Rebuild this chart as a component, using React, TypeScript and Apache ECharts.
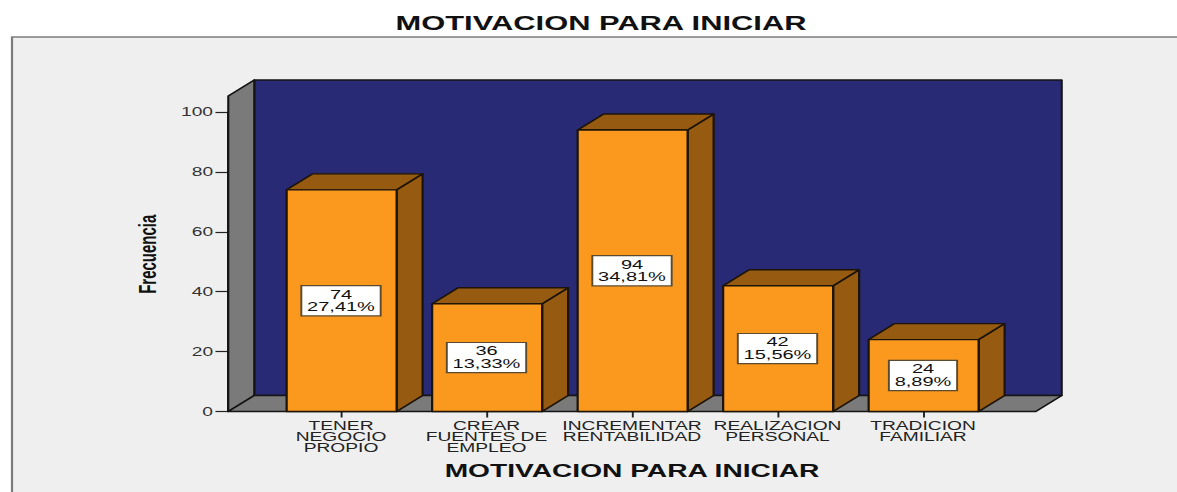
import React, { useEffect, useRef } from "react";
import * as echarts from "echarts";

const chartTitle = "MOTIVACION PARA INICIAR";
const xAxisTitle = "MOTIVACION PARA INICIAR";
const yAxisTitle = "Frecuencia";
const categories = [
  "TENER\nNEGOCIO\nPROPIO",
  "CREAR\nFUENTES DE\nEMPLEO",
  "INCREMENTAR\nRENTABILIDAD",
  "REALIZACION\nPERSONAL",
  "TRADICION\nFAMILIAR",
];
const frequencies = [74, 36, 94, 42, 24];
const percents = ["27,41%", "13,33%", "34,81%", "15,56%", "8,89%"];

// The reference is a horizontally stretched image: the whole chart is stretched the same way.
const STRETCH = 1.6;
const PAGE_W = 1177;
const PAGE_H = 492;
const DEPTH_X = 16.25;
const DEPTH_Y = 16;
const WALL_PAD = 25;
const FONT = '"Liberation Sans", Arial, sans-serif';
const INK = "#1c1408";

function renderWalls(params: any) {
  const cs = params.coordSys;
  const l = cs.x - WALL_PAD;
  const r = cs.x + cs.width + WALL_PAD;
  const b = cs.y + cs.height;
  const t = cs.y - DEPTH_Y;
  const stroke = { stroke: "#141414", lineWidth: 1.3, lineJoin: "round" };
  return {
    type: "group",
    children: [
      {
        type: "polygon",
        shape: { points: [[l + DEPTH_X, t - DEPTH_Y], [r + DEPTH_X, t - DEPTH_Y], [r + DEPTH_X, b - DEPTH_Y], [l + DEPTH_X, b - DEPTH_Y]] },
        style: { fill: "#282a75", ...stroke },
      },
      {
        type: "polygon",
        shape: { points: [[l, t], [l + DEPTH_X, t - DEPTH_Y], [l + DEPTH_X, b - DEPTH_Y], [l, b]] },
        style: { fill: "#7a7a7a", ...stroke },
      },
      {
        type: "polygon",
        shape: { points: [[l, b], [l + DEPTH_X, b - DEPTH_Y], [r + DEPTH_X, b - DEPTH_Y], [r, b]] },
        style: { fill: "#7a7a7a", ...stroke },
      },
    ],
  };
}

function renderBar(params: any, api: any) {
  const idx = api.value(0);
  const val = api.value(1);
  const top = api.coord([idx, val]);
  const base = api.coord([idx, 0]);
  const w = api.size([1, 0])[0] * 0.756;
  const cx = top[0] + 0.4;
  const l = cx - w / 2;
  const r = cx + w / 2;
  const stroke = { stroke: INK, lineWidth: 1.4, lineJoin: "round" };
  return {
    type: "group",
    children: [
      {
        type: "polygon",
        shape: { points: [[r, top[1]], [r + DEPTH_X, top[1] - DEPTH_Y], [r + DEPTH_X, base[1] - DEPTH_Y], [r, base[1]]] },
        style: { fill: "#975a11", ...stroke },
      },
      {
        type: "polygon",
        shape: { points: [[l, top[1]], [l + DEPTH_X, top[1] - DEPTH_Y], [r + DEPTH_X, top[1] - DEPTH_Y], [r, top[1]]] },
        style: { fill: "#975a11", ...stroke },
      },
      {
        type: "rect",
        shape: { x: l, y: top[1], width: w, height: base[1] - top[1] },
        style: { fill: "#fb981e", ...stroke },
      },
      {
        type: "text",
        x: cx - 0.4,
        y: (top[1] + base[1]) / 2,
        style: {
          text: `${frequencies[params.dataIndex]}\n${percents[params.dataIndex]}`,
          align: "center",
          verticalAlign: "middle",
          fill: "#111",
          font: `12.5px ${FONT}`,
          lineHeight: 12.5,
          backgroundColor: "#fff",
          borderColor: "#5a4a30",
          borderWidth: 1.2,
          padding: [2, 3],
        },
      },
    ],
  };
}

export default function App() {
  const ref = useRef<HTMLDivElement>(null);
  useEffect(() => {
    const chart = echarts.init(ref.current!, undefined, { renderer: "svg" });
    chart.setOption({
      animation: false,
      backgroundColor: "#ffffff",
      title: {
        text: chartTitle,
        left: 593 / STRETCH,
        top: 9,
        textAlign: "center",
        textStyle: { fontFamily: FONT, fontWeight: "bold", fontSize: 19.3, color: "#111" },
      },
      graphic: [
        {
          type: "rect",
          z: -10,
          shape: { x: 12 / STRETCH, y: 37, width: PAGE_W, height: PAGE_H },
          style: { fill: "#efefef", stroke: "#7d7d7d", lineWidth: 1.4 },
        },
      ],
      grid: { left: 268.25 / STRETCH, top: 112, width: 727.5 / STRETCH, height: 299.5 },
      xAxis: {
        type: "category",
        data: categories,
        name: xAxisTitle,
        nameLocation: "middle",
        nameGap: 50,
        nameTextStyle: { fontFamily: FONT, fontWeight: "bold", fontSize: 17.6, color: "#111" },
        axisLine: { show: false },
        axisTick: { show: true, alignWithLabel: true, length: 6, lineStyle: { color: "#222", width: 1.2 } },
        axisLabel: {
          interval: 0,
          margin: 9,
          hideOverlap: false,
          fontFamily: FONT,
          fontSize: 12,
          lineHeight: 11,
          color: "#222",
        },
      },
      yAxis: {
        type: "value",
        min: 0,
        max: 100,
        interval: 20,
        offset: WALL_PAD,
        name: yAxisTitle,
        nameLocation: "middle",
        nameGap: 43,
        nameTextStyle: { fontFamily: FONT, fontWeight: "bold", fontSize: 15, color: "#111", padding: [0, 0, 0, 15] },
        splitLine: { show: false },
        axisLine: { show: true, lineStyle: { color: "#222", width: 1.2 } },
        axisTick: { show: true, length: 8, lineStyle: { color: "#222", width: 1.2 } },
        axisLabel: { margin: 9.5, fontFamily: FONT, fontSize: 12, color: "#333" },
      },
      series: [
        { type: "custom", clip: false, z: 1, silent: true, data: [[0, 0]], renderItem: renderWalls },
        {
          type: "custom",
          clip: false,
          z: 2,
          silent: true,
          encode: { x: 0, y: 1 },
          data: frequencies.map((v, i) => [i, v]),
          renderItem: renderBar,
        },
      ],
    });
    return () => chart.dispose();
  }, []);
  return (
    <div
      ref={ref}
      style={{
        position: "absolute",
        left: 0,
        top: 0,
        width: PAGE_W / STRETCH,
        height: PAGE_H,
        transform: `scaleX(${STRETCH})`,
        transformOrigin: "0 0",
      }}
    />
  );
}
